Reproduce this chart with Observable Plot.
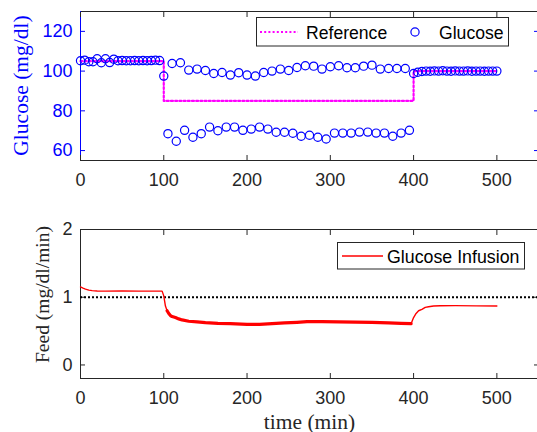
<!DOCTYPE html>
<html>
<head>
<meta charset="utf-8">
<script src="https://cdn.jsdelivr.net/npm/d3@7"></script>
<script src="https://cdn.jsdelivr.net/npm/@observablehq/plot@0.6"></script>
<style>
  html, body { margin: 0; padding: 0; background: white; overflow: hidden; }
  #chart { width: 537px; height: 432px; position: relative; }
  #chart svg { display: block; overflow: hidden; }
</style>
</head>
<body>
<div id="chart"></div>
<script>
// ---------- data ----------
const xTicks = [0, 100, 200, 300, 400, 500];
const glucoseTicks = [60, 80, 100, 120];
const feedTicks = [0, 1, 2];

const glucoseTime = [
  0, 5, 10, 15, 20, 25, 30, 35, 40, 45, 50, 55, 60, 65, 70, 75, 80, 85, 90, 95,
  100, 105, 110, 115, 120, 125, 130, 135, 140, 145, 150, 155, 160, 165, 170, 175,
  180, 185, 190, 195, 200, 205, 210, 215, 220, 225, 230, 235, 240, 245, 250, 255,
  260, 265, 270, 275, 280, 285, 290, 295, 300, 305, 310, 315, 320, 325, 330, 335,
  340, 345, 350, 355, 360, 365, 370, 375, 380, 385, 390, 395,
  400, 405, 410, 415, 420, 425, 430, 435, 440, 445, 450, 455, 460, 465, 470, 475,
  480, 485, 490, 495, 500
];
const glucoseValue = [
  105.2, 105.5, 104.7, 104.7, 106.2, 104.2, 106.2, 104.3, 106.0, 105.2,
  105.3, 105.2, 105.2, 105.3, 105.2, 105.3, 105.2, 105.3, 105.5, 105.3,
  97.5, 68.5, 103.8, 64.7, 104.2, 70.2, 100.5, 66.7, 101.0, 68.5, 100.3, 71.8,
  98.8, 70.0, 99.3, 71.8, 98.0, 71.8, 99.2, 70.2, 98.0, 70.8, 97.5, 71.8,
  99.3, 70.8, 100.0, 69.2, 101.0, 69.2, 100.3, 68.7, 101.8, 67.2, 102.7, 67.7,
  102.5, 66.7, 101.0, 65.8, 102.2, 68.8, 102.7, 68.8, 101.7, 68.8, 101.7, 69.3,
  102.5, 69.3, 103.0, 68.8, 101.0, 68.8, 101.3, 67.2, 101.3, 68.8, 101.3, 70.2,
  98.8, 99.4, 99.8, 100.0, 99.9, 100.1, 100.0, 100.2, 100.0, 99.9, 100.1, 100.0,
  100.0, 100.1, 99.9, 100.0, 100.0, 99.9, 100.0, 100.0, 100.0
];

const referenceTime = [0, 100, 400, 500];
const referenceValue = [105, 85, 100, 100];

const feedTime = [
  0, 3, 6, 10, 14, 20, 30, 50, 70, 90, 98, 100, 102, 104, 106, 108, 110, 114,
  118, 122, 130, 140, 150, 165, 180, 200, 215, 230, 245, 260, 272, 290, 310,
  330, 350, 370, 385, 397, 400, 403, 406, 410, 414, 418, 424, 432, 450, 475, 500
];
const feedValue = [
  1.152, 1.135, 1.12, 1.105, 1.097, 1.092, 1.09, 1.092, 1.09, 1.09, 1.09, 1.02,
  0.87, 0.80, 0.76, 0.73, 0.715, 0.70, 0.68, 0.665, 0.645, 0.635, 0.625, 0.615,
  0.61, 0.60, 0.60, 0.61, 0.62, 0.63, 0.64, 0.64, 0.635, 0.632, 0.628, 0.62,
  0.615, 0.61, 0.70, 0.76, 0.80, 0.82, 0.85, 0.86, 0.87, 0.875, 0.876, 0.873, 0.871
];
const feedTarget = [1];

// ---------- tables ----------
const glucose = glucoseTime.map((t, i) => ({t, v: glucoseValue[i]}));
const reference = referenceTime.map((t, i) => ({t, v: referenceValue[i]}));
const feed = feedTime.map((t, i) => ({t, v: feedValue[i]}));

const BLUE = "#0000ff", MAG = "#ff00ff", RED = "#ff0000", AX = "#262626";
const sans = "'Liberation Sans', Arial, Helvetica, sans-serif";
const serif = "'Liberation Serif', 'Times New Roman', serif";
const baseStyle = {fontFamily: sans, fontSize: "18px", background: "white", color: AX, overflow: "hidden"};
const fmt = d => String(d);

// ---------- top panel ----------
const topPlot = Plot.plot({
  width: 537, height: 200,
  marginTop: 11, marginBottom: 40, marginLeft: 80, marginRight: -1,
  x: {domain: [0, 550]},
  y: {domain: [55, 130]},
  style: baseStyle,
  marks: [
    Plot.frame({stroke: AX, strokeWidth: 1}),
    Plot.ruleX([0], {stroke: BLUE, strokeWidth: 1}),
    Plot.axisX({ticks: xTicks, anchor: "bottom", tickSize: -5, fill: "none", stroke: AX, label: null}),
    Plot.axisX({ticks: xTicks, anchor: "top", tickSize: -5, fill: "none", stroke: AX, label: null}),
    Plot.axisX({ticks: xTicks, anchor: "bottom", tickSize: 0, tickPadding: 13, fill: AX, label: null, tickFormat: fmt}),
    Plot.axisY({ticks: glucoseTicks, anchor: "left", tickSize: -5, fill: "none", stroke: BLUE, label: null}),
    Plot.axisY({ticks: glucoseTicks, anchor: "right", tickSize: -5, fill: "none", stroke: BLUE, label: null}),
    Plot.axisY({ticks: glucoseTicks, anchor: "left", tickSize: 0, tickPadding: 8, fill: BLUE, label: null, tickFormat: fmt}),
    Plot.line(reference, {x: "t", y: "v", curve: "step-after", stroke: MAG, strokeWidth: 2.2, strokeDasharray: "2,2.2"}),
    Plot.dot(glucose, {x: "t", y: "v", r: 4.1, stroke: BLUE, strokeWidth: 1.2, fill: "none"}),
    Plot.text(["Glucose (mg/dl)"], {frameAnchor: "left", textAnchor: "middle", lineAnchor: "middle",
      rotate: -90, dx: -59, dy: -0.5, fontFamily: serif, fontSize: 21.5, fill: BLUE})
  ]
});

// ---------- bottom panel ----------
const bottomPlot = Plot.plot({
  width: 537, height: 232,
  marginTop: 29, marginBottom: 54, marginLeft: 80, marginRight: -1,
  x: {domain: [0, 550]},
  y: {domain: [-0.2, 2]},
  style: baseStyle,
  marks: [
    Plot.frame({stroke: AX, strokeWidth: 1}),
    Plot.axisX({ticks: xTicks, anchor: "bottom", tickSize: -5, fill: "none", stroke: AX, label: null}),
    Plot.axisX({ticks: xTicks, anchor: "top", tickSize: -5, fill: "none", stroke: AX, label: null}),
    Plot.axisX({ticks: xTicks, anchor: "bottom", tickSize: 0, tickPadding: 13, fill: AX, label: null, tickFormat: fmt}),
    Plot.axisY({ticks: feedTicks, anchor: "left", tickSize: -5, fill: "none", stroke: AX, label: null}),
    Plot.axisY({ticks: feedTicks, anchor: "right", tickSize: -5, fill: "none", stroke: AX, label: null}),
    Plot.axisY({ticks: feedTicks, anchor: "left", tickSize: 0, tickPadding: 8, fill: AX, label: null, tickFormat: fmt}),
    Plot.ruleY(feedTarget, {stroke: "black", strokeWidth: 2.2, strokeDasharray: "2,2"}),
    Plot.line(feed, {x: "t", y: "v", stroke: RED, strokeWidth: 1.4}),
    Plot.line(feed, {x: "t", y: "v", stroke: RED, strokeWidth: 3.2, filter: d => d.t >= 104 && d.t <= 397}),
    Plot.text(["Feed (mg/dl/min)"], {frameAnchor: "left", textAnchor: "middle", lineAnchor: "middle",
      rotate: -90, dx: -38, dy: -9.5, fontFamily: serif, fontSize: 19.5, fill: AX}),
    Plot.text(["time (min)"], {frameAnchor: "bottom", textAnchor: "middle", lineAnchor: "bottom", dy: 50,
      fontFamily: serif, fontSize: 21.5, fill: AX})
  ]
});

document.getElementById("chart").append(topPlot, bottomPlot);

// ---------- legends ----------
const gl = d3.select(topPlot).append("g").attr("text-anchor", "start");
gl.append("rect").attr("x", 256.5).attr("y", 17.5).attr("width", 252).attr("height", 28.5)
  .attr("fill", "white").attr("stroke", AX).attr("stroke-width", 1);
gl.append("line").attr("x1", 260).attr("x2", 298).attr("y1", 32).attr("y2", 32)
  .attr("stroke", MAG).attr("stroke-width", 2.2).attr("stroke-dasharray", "2,2.2");
gl.append("text").attr("x", 306).attr("y", 38.5).text("Reference")
  .attr("font-family", sans).attr("font-size", 17.6).attr("fill", "black");
gl.append("circle").attr("cx", 415).attr("cy", 32).attr("r", 4.1)
  .attr("fill", "none").attr("stroke", BLUE).attr("stroke-width", 1.2);
gl.append("text").attr("x", 439).attr("y", 38.5).text("Glucose")
  .attr("font-family", sans).attr("font-size", 17.6).attr("fill", "black");

const g2 = d3.select(bottomPlot).append("g").attr("text-anchor", "start");
g2.append("rect").attr("x", 337.5).attr("y", 42.5).attr("width", 187).attr("height", 26.5)
  .attr("fill", "white").attr("stroke", AX).attr("stroke-width", 1);
g2.append("line").attr("x1", 342).attr("x2", 383).attr("y1", 56).attr("y2", 56)
  .attr("stroke", RED).attr("stroke-width", 1.4);
g2.append("text").attr("x", 387).attr("y", 62.5).text("Glucose Infusion")
  .attr("font-family", sans).attr("font-size", 17.8).attr("fill", "black");
</script>
</body>
</html>
